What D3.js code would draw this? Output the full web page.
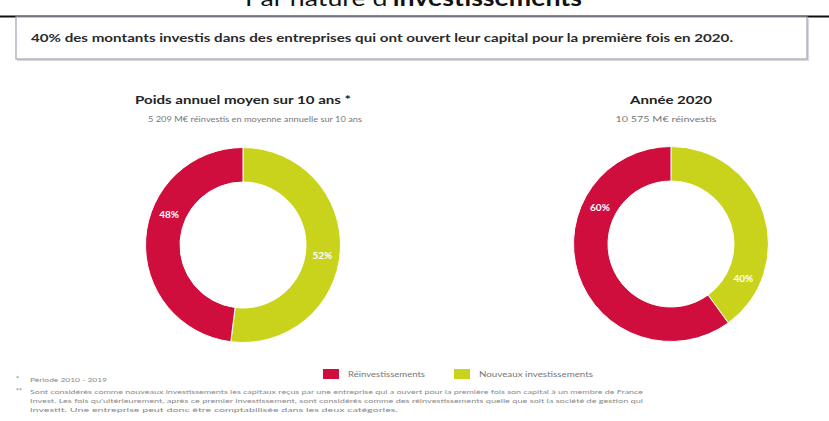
<!DOCTYPE html>
<html>
<head>
<meta charset="utf-8">
<script src="https://cdn.jsdelivr.net/npm/d3@7"></script>
<style>
  html, body { margin: 0; padding: 0; background: #fff; }
  svg { display: block; }
</style>
</head>
<body>
<svg id="chart" width="829" height="421"></svg>
<script>
// ---- data ----
const categories = ["Nouveaux investissements", "Réinvestissements"];
const legendOrder = ["Réinvestissements", "Nouveaux investissements"];
const valuesAverage = [52, 48];   // Poids annuel moyen sur 10 ans
const values2020 = [40, 60];      // Année 2020
const chartTitles = ["Poids annuel moyen sur 10 ans *", "Année 2020"];
const chartSubtitles = ["5 209 M€ réinvestis en moyenne annuelle sur 10 ans", "10 575 M€ réinvestis"];
const headline = "40% des montants investis dans des entreprises qui ont ouvert leur capital pour la première fois en 2020.";
const footnotes = [
  ["*", "Période 2010 - 2019"],
  ["**", "Sont considérés comme nouveaux investissements les capitaux reçus par une entreprise qui a ouvert pour la première fois son capital à un membre de France"],
  ["", "Invest. Les fois qu'ultérieurement, après ce premier investissement, sont considérés comme des réinvestissements quelle que soit la société de gestion qui"],
  ["", "investit. Une entreprise peut donc être comptabilisée dans les deux catégories."]
];

// ---- styling ----
const colors = d3.scaleOrdinal()
  .domain(categories)
  .range(["#c9d31c", "#cf0e3e"]);
const font = "Lato, 'Open Sans', sans-serif";

const svg = d3.select("#chart");

// Section heading, cropped by the top edge of the page
const head = svg.append("text")
  .attr("x", 245).attr("y", 6)
  .attr("font-family", font)
  .attr("font-size", 22)
  .attr("fill", "#111")
  .attr("textLength", 337)
  .attr("lengthAdjust", "spacingAndGlyphs");
head.append("tspan").text("Par nature d'");
head.append("tspan").attr("font-weight", "bold").text("investissements");

// Rule under the heading
svg.append("line")
  .attr("x1", 0).attr("x2", 829)
  .attr("y1", 16.5).attr("y2", 16.5)
  .attr("stroke", "#111").attr("stroke-width", 2);

// Key-message box
svg.append("rect")
  .attr("x", 17).attr("y", 19)
  .attr("width", 792).attr("height", 42)
  .attr("fill", "#d8d8e0");
svg.append("rect")
  .attr("x", 16).attr("y", 17)
  .attr("width", 791).attr("height", 42)
  .attr("fill", "#fff")
  .attr("stroke", "#a9a9b8").attr("stroke-width", 1.3);
svg.append("text")
  .attr("x", 31).attr("y", 42)
  .attr("font-family", font)
  .attr("font-weight", "bold")
  .attr("font-size", 11.5)
  .attr("fill", "#2a2a2a")
  .attr("textLength", 702)
  .attr("lengthAdjust", "spacingAndGlyphs")
  .text(headline);

// ---- donuts ----
const pie = d3.pie().sort(null).value(d => d);
const arc = d3.arc().innerRadius(63).outerRadius(97.5);
const labelRadius = 80;

const panels = [
  { values: valuesAverage, cx: 243, cy: 245, titleW: 216, subW: 214, labelAt: [0.52, 0.61] },
  { values: values2020,    cx: 671, cy: 244, titleW: 82,  subW: 101, labelAt: [0.80, 0.71] }
];

panels.forEach((p, i) => {
  const g = svg.append("g").attr("transform", `translate(${p.cx},${p.cy})`);
  const slices = pie(p.values);

  g.selectAll("path")
    .data(slices)
    .join("path")
    .attr("d", arc)
    .attr("fill", (d, j) => colors(categories[j]))
    .attr("stroke", "#fff")
    .attr("stroke-width", 1);

  g.selectAll("text.pct")
    .data(slices)
    .join("text")
    .attr("class", "pct")
    .attr("transform", (d, j) => {
      const a = d.startAngle + (d.endAngle - d.startAngle) * p.labelAt[j];
      return `translate(${labelRadius * Math.sin(a)},${-labelRadius * Math.cos(a)})`;
    })
    .attr("text-anchor", "middle")
    .attr("dy", "0.35em")
    .attr("font-family", font)
    .attr("font-weight", "bold")
    .attr("font-size", 10)
    .attr("fill", "#fff")
    .text(d => d.data + "%");

  svg.append("text")
    .attr("x", p.cx).attr("y", 104)
    .attr("text-anchor", "middle")
    .attr("font-family", font)
    .attr("font-weight", "bold")
    .attr("font-size", 11.5)
    .attr("fill", "#222")
    .attr("textLength", p.titleW)
    .attr("lengthAdjust", "spacingAndGlyphs")
    .text(chartTitles[i]);

  svg.append("text")
    .attr("x", p.cx - (i === 1 ? 5 : -12)).attr("y", 121.5)
    .attr("text-anchor", "middle")
    .attr("font-family", font)
    .attr("font-size", 7)
    .attr("fill", "#777")
    .attr("textLength", p.subW)
    .attr("lengthAdjust", "spacingAndGlyphs")
    .text(chartSubtitles[i]);
});

// ---- legend ----
const legendX = d3.scalePoint().domain(legendOrder).range([323, 454]);
const legendTextW = { "Réinvestissements": 77, "Nouveaux investissements": 114 };
const lg = svg.append("g")
  .selectAll("g")
  .data(legendOrder)
  .join("g")
  .attr("transform", d => `translate(${legendX(d)},369)`);
lg.append("rect")
  .attr("width", 16).attr("height", 10)
  .attr("fill", d => colors(d));
lg.append("text")
  .attr("x", 25).attr("y", 8)
  .attr("font-family", font)
  .attr("font-size", 7.5)
  .attr("fill", "#777")
  .attr("textLength", d => legendTextW[d])
  .attr("lengthAdjust", "spacingAndGlyphs")
  .text(d => d);

// ---- footnotes ----
const noteY = [382, 394, 403, 412];
const noteW = [77, 613, 613, 368];
const notes = svg.append("g");
footnotes.forEach((n, i) => {
  if (n[0]) {
    notes.append("text")
      .attr("x", 16).attr("y", noteY[i])
      .attr("font-family", font).attr("font-size", 7)
      .attr("fill", "#888")
      .text(n[0]);
  }
  notes.append("text")
    .attr("x", 30).attr("y", noteY[i])
    .attr("font-family", font).attr("font-size", 6.5)
    .attr("fill", "#8a8a8a")
    .attr("textLength", noteW[i])
    .attr("lengthAdjust", "spacingAndGlyphs")
    .text(n[1]);
});
</script>
</body>
</html>
